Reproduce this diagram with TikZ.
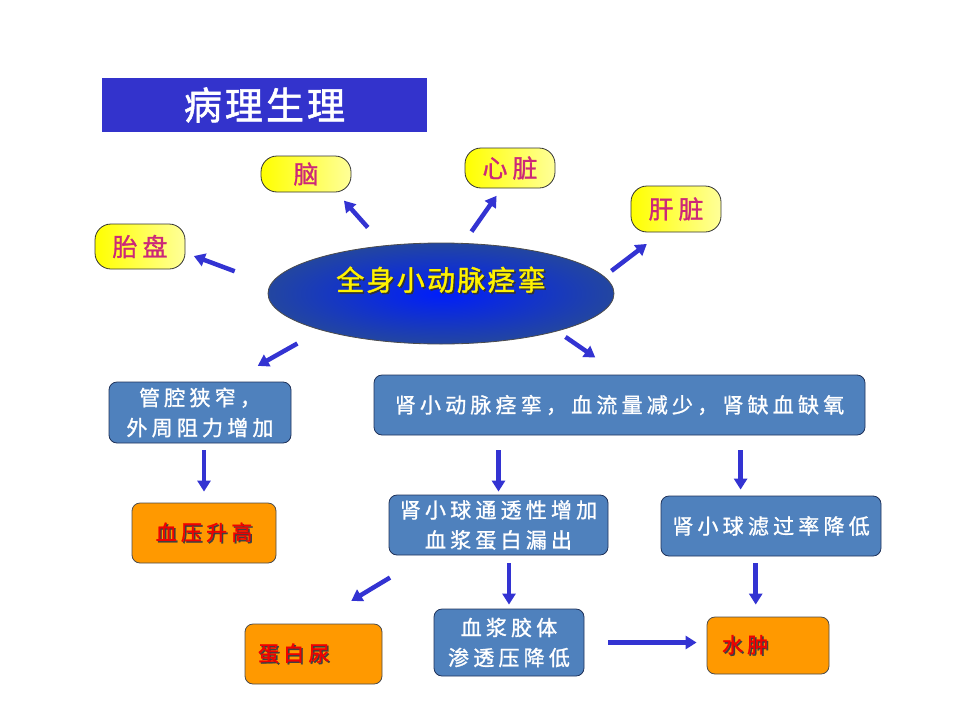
\documentclass[tikz,border=0pt]{standalone}
\usepackage{fontspec}
\usepackage{tikz}
\usetikzlibrary{positioning,shapes,arrows.meta}
\newfontfamily\cjk[LetterSpace=20,FakeBold=1.2]{Noto Sans CJK SC}
\newfontfamily\cjkbig[LetterSpace=8,FakeBold=1.5]{Noto Sans CJK SC}
\definecolor{titleblue}{RGB}{51,51,204}
\definecolor{boxblue}{RGB}{79,129,189}
\definecolor{boxline}{RGB}{31,50,90}
\definecolor{organtext}{RGB}{204,40,120}
\definecolor{resultorange}{RGB}{255,153,0}
\definecolor{resultred}{RGB}{240,0,0}
\definecolor{arrowblue}{RGB}{51,51,210}
\definecolor{ovalin}{RGB}{0,30,250}
\definecolor{ovalout}{RGB}{35,70,160}
\newcommand{\shtext}[2]{\makebox[0pt][l]{\hspace{1.5pt}\raisebox{-1.5pt}{\textcolor{#1}{#2}}}#2}
\tikzstyle{titlebox} = [rectangle, fill=titleblue, minimum width=325pt, minimum height=54pt, text=white, font=\cjkbig\fontsize{38}{42}\selectfont]
\tikzstyle{mainoval} = [ellipse, minimum width=346pt, minimum height=101pt, draw=black!70, line width=0.8pt, inner color=ovalin, outer color=ovalout]
\tikzstyle{pill} = [rectangle, rounded corners=16pt, minimum width=90pt, draw=black!80, line width=0.8pt, left color=yellow, right color=yellow!40!white, text=organtext, font=\cjk\fontsize{25}{28}\selectfont]
\tikzstyle{bluebox} = [rectangle, rounded corners=8pt, inner sep=2pt, draw=boxline, line width=0.8pt, fill=boxblue, text=white, align=center, font=\cjk\fontsize{21}{30}\selectfont]
\tikzstyle{orangebox} = [rectangle, rounded corners=8pt, inner sep=2pt, draw=black!70, line width=0.8pt, fill=resultorange, text=resultred, font=\cjk\fontsize{21}{30}\selectfont]
\tikzstyle{connect} = [line width=4.5pt, draw=arrowblue, -{Triangle[length=11pt,width=13pt]}]

\begin{document}
\begin{tikzpicture}[x=1pt,y=-1pt]
\useasboundingbox (0,0) rectangle (960,720);
\node (title) [titlebox] at (264.5,105) {病理生理};
\node (main) [mainoval, label={[yshift=13pt, text=yellow, font=\cjkbig\fontsize{28}{32}\selectfont]center:\shtext{black!80}{全身小动脉痉挛}}] at (441,293.5) {};
\node (nao) [pill, minimum height=36pt] at (306,174) {脑};
\node (xinzang) [pill, minimum height=40pt] at (510,168) {心脏};
\node (ganzang) [pill, minimum height=46pt] at (676,209) {肝脏};
\node (taipan) [pill, minimum height=45pt] at (140,246.5) {胎盘};
\node (guanqiang) [bluebox, minimum width=182pt, minimum height=61pt] at (200,412.5) {管腔狭窄，\\外周阻力增加};
\node (shenxiao) [bluebox, minimum width=491pt, minimum height=60pt] at (619.5,405) {肾小动脉痉挛，血流量减少，肾缺血缺氧};
\node (xueya) [orangebox, minimum width=144pt, minimum height=60pt] at (204,533) {\shtext{black!75}{血压升高}};
\node (tongtou) [bluebox, minimum width=219pt, minimum height=60pt] at (498.5,525) {肾小球通透性增加\\血浆蛋白漏出};
\node (lvguo) [bluebox, minimum width=220pt, minimum height=60pt] at (771,526) {肾小球滤过率降低};
\node (danbai) [orangebox, minimum width=137pt, minimum height=60pt, text width=111pt, inner xsep=13pt, align=left] at (313.5,654) {\shtext{black!75}{蛋白尿}};
\node (xuejiang) [bluebox, minimum width=150pt, minimum height=67pt] at (509,642.5) {血浆胶体\\渗透压降低};
\node (shuizhong) [orangebox, minimum width=122pt, minimum height=57pt, text width=92pt, inner xsep=15pt, align=left] at (768,645.5) {\shtext{black!75}{水肿}};

\draw [connect, shorten <=38pt, shorten >=9pt] (main.177) -- (taipan.-8);
\draw [connect, shorten <=24pt, shorten >=11pt] (main.140) -- (nao.-31);
\draw [connect, shorten <=14pt, shorten >=9pt] (main.66) -- (xinzang.-112);
\draw [connect, shorten <=9pt, shorten >=19pt] (main.6) -- (ganzang.-121);
\draw [connect, shorten <=27pt, shorten >=32pt] (main.197) -- (guanqiang.46);
\draw [connect, shorten <=10pt, shorten >=30pt] (main.-18) -- (shenxiao.89);
\draw [connect, shorten <=7pt, shorten >=11pt] (guanqiang.south -| xueya.north) -- (xueya.north);
\draw [connect, shorten <=15pt, shorten >=3pt] (shenxiao.south -| tongtou.north) -- (tongtou.north);
\draw [connect, shorten <=15pt, shorten >=6pt] (shenxiao.south -| lvguo.135) -- (lvguo.135);
\draw [connect, shorten <=43pt, shorten >=44pt] (tongtou.-157) -- (danbai.north);
\draw [connect, shorten <=8pt, shorten >=4pt] (tongtou.south -| xuejiang.north) -- (xuejiang.north);
\draw [connect, shorten <=7pt, shorten >=12pt] (lvguo.south -| shuizhong.113) -- (shuizhong.113);
\draw [connect, shorten <=24pt, shorten >=10pt] (xuejiang.east) -- (xuejiang.east -| shuizhong.west);
\end{tikzpicture}
\end{document}
